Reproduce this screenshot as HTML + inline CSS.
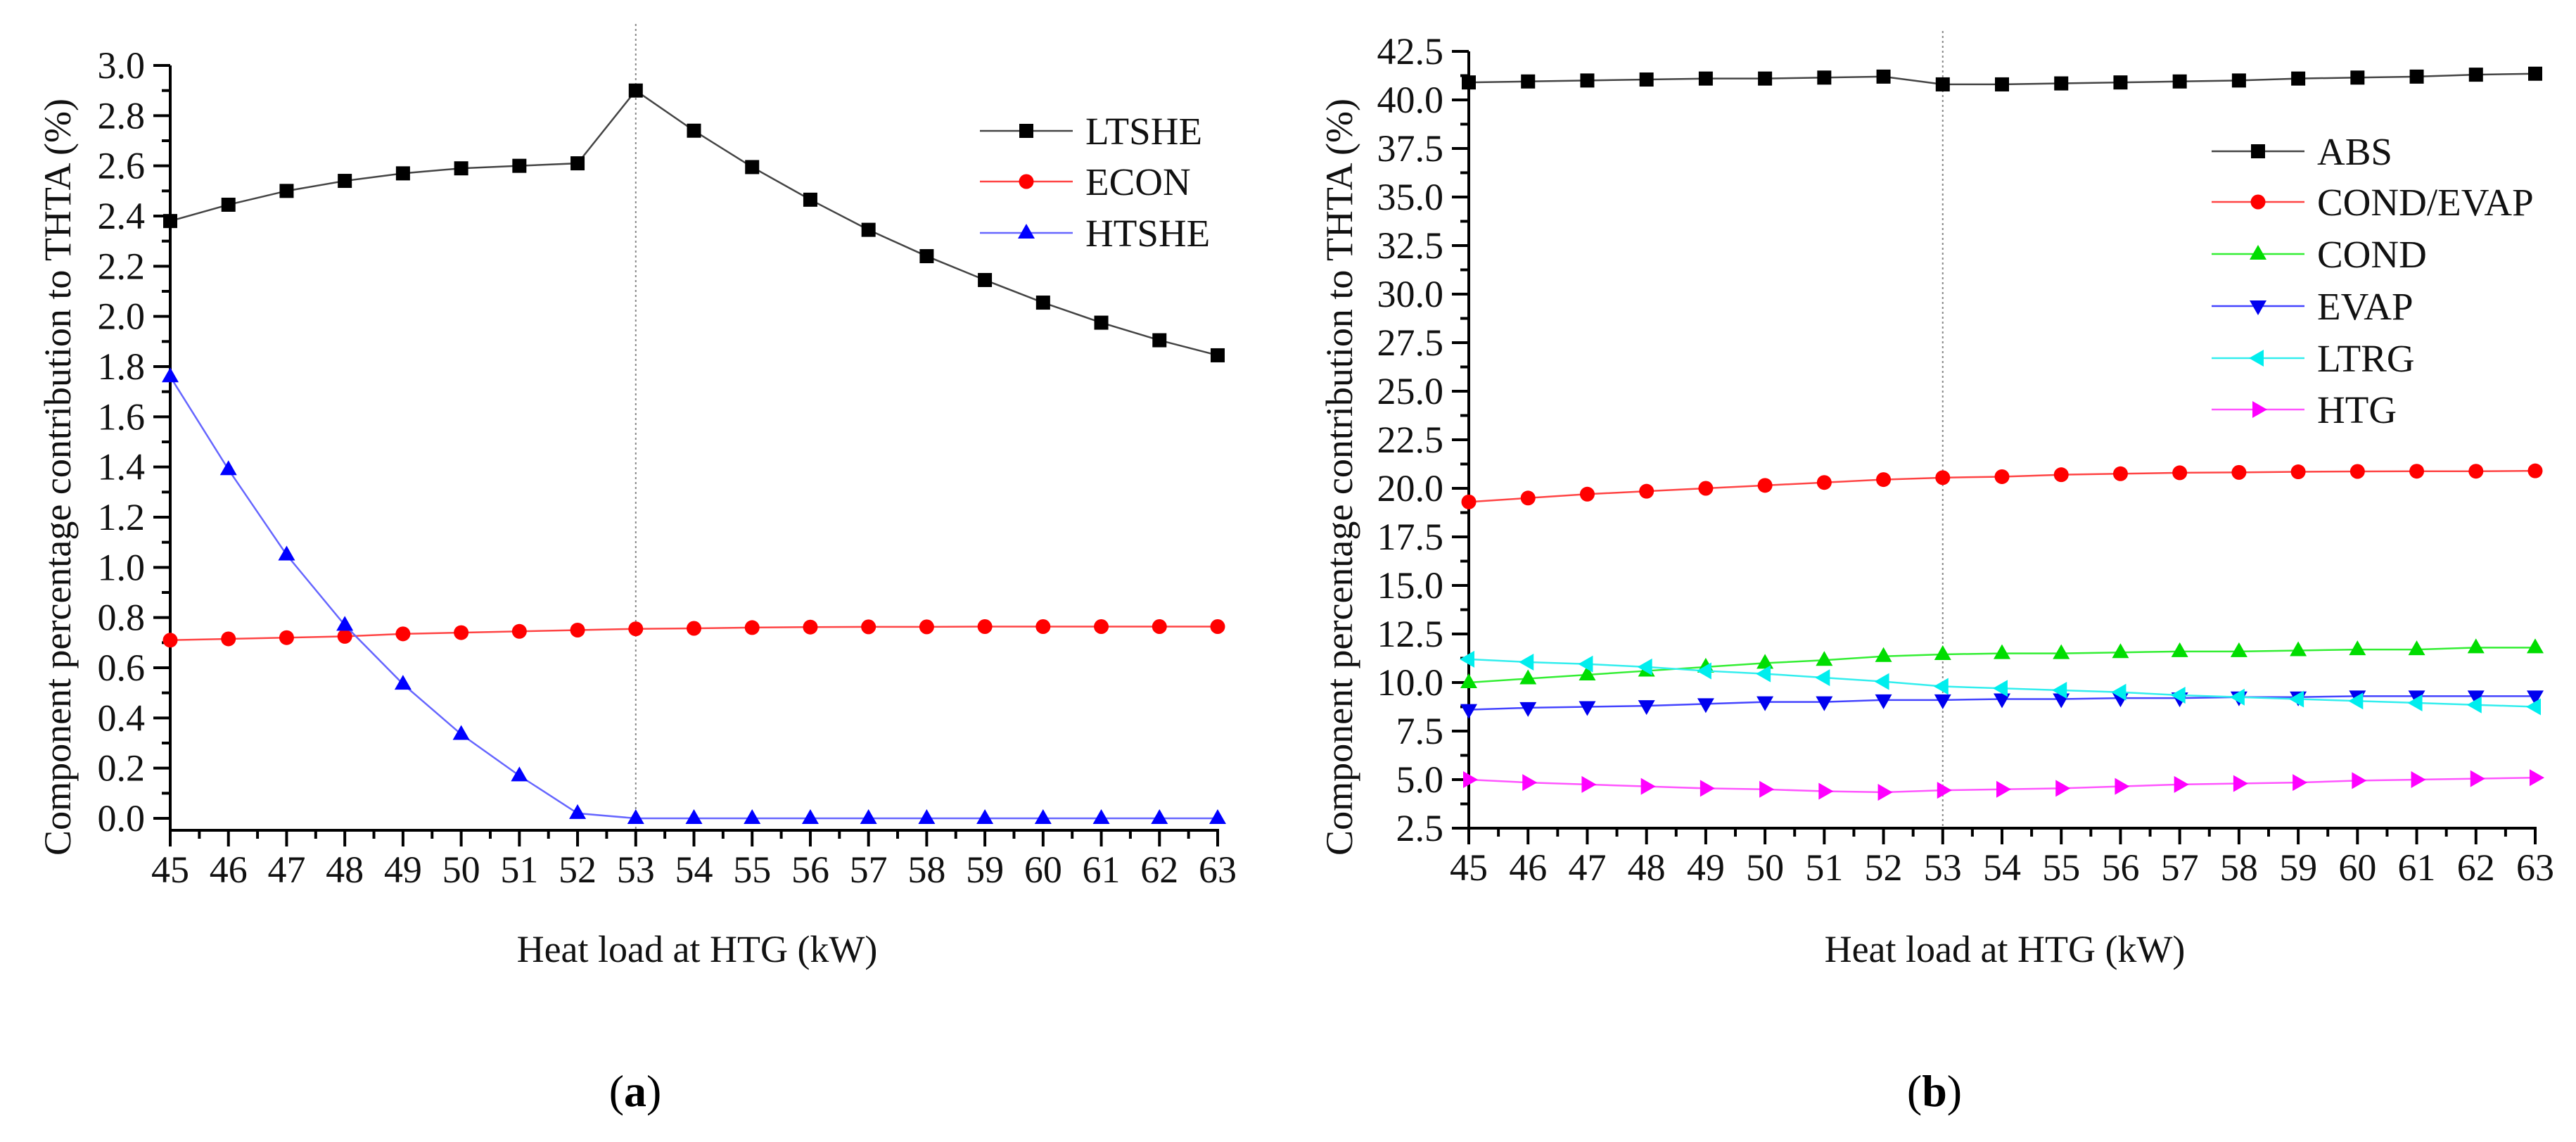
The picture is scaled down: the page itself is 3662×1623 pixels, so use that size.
<!DOCTYPE html>
<html><head><meta charset="utf-8"><style>
html,body{margin:0;padding:0;background:#fff;}
svg{display:block;font-family:"Liberation Serif","DejaVu Serif",serif;}
text{font-family:"Liberation Serif","DejaVu Serif",serif;}
</style></head><body>
<svg id="s" width="3662" height="1623" viewBox="0 0 3662 1623"></svg>
<script>
const xCats=[45,46,47,48,49,50,51,52,53,54,55,56,57,58,59,60,61,62,63];
const aTicks=[0.0,0.2,0.4,0.6,0.8,1.0,1.2,1.4,1.6,1.8,2.0,2.2,2.4,2.6,2.8,3.0];
const bTicks=[2.5,5.0,7.5,10.0,12.5,15.0,17.5,20.0,22.5,25.0,27.5,30.0,32.5,35.0,37.5,40.0,42.5];
const ltshe=[2.38,2.445,2.50,2.54,2.57,2.59,2.60,2.61,2.90,2.74,2.595,2.465,2.345,2.24,2.145,2.055,1.975,1.905,1.845];
const econ=[0.71,0.715,0.72,0.725,0.735,0.74,0.745,0.75,0.755,0.757,0.76,0.762,0.763,0.763,0.764,0.764,0.764,0.764,0.764];
const htshe=[1.76,1.39,1.05,0.77,0.535,0.335,0.17,0.02,0,0,0,0,0,0,0,0,0,0,0];
const abs=[40.9,40.95,41.0,41.05,41.1,41.1,41.15,41.2,40.8,40.8,40.85,40.9,40.95,41.0,41.1,41.15,41.2,41.3,41.35];
const condEvap=[19.3,19.5,19.7,19.85,20.0,20.15,20.3,20.45,20.55,20.6,20.7,20.75,20.8,20.82,20.85,20.87,20.88,20.88,20.9];
const cond=[10.0,10.2,10.4,10.6,10.8,11.0,11.15,11.35,11.45,11.5,11.5,11.55,11.6,11.6,11.65,11.7,11.7,11.8,11.8];
const evap=[8.6,8.7,8.75,8.8,8.9,9.0,9.0,9.1,9.1,9.15,9.15,9.2,9.2,9.25,9.25,9.3,9.3,9.3,9.3];
const ltrg=[11.2,11.05,10.95,10.8,10.6,10.45,10.25,10.05,9.8,9.7,9.6,9.5,9.35,9.25,9.15,9.05,8.95,8.85,8.75];
const htg=[5.0,4.85,4.75,4.65,4.55,4.5,4.4,4.35,4.45,4.5,4.55,4.65,4.75,4.8,4.85,4.95,5.0,5.05,5.1];

const NS="http://www.w3.org/2000/svg";
const FONT='"Liberation Serif","DejaVu Serif",serif';
const svg=document.getElementById('s');
function mk(tag,attrs,parent){const e=document.createElementNS(NS,tag);for(const k in attrs)e.setAttribute(k,attrs[k]);if(tag==='text')e.setAttribute('font-family',FONT);(parent||svg).appendChild(e);return e;}

function marker(g,shape,cx,cy,color){
  let e;
  if(shape==='sq') e=mk('rect',{x:cx-10,y:cy-10,width:20,height:20,fill:color},g);
  else if(shape==='ci') e=mk('circle',{cx:cx,cy:cy,r:10.5,fill:color},g);
  else if(shape==='up') e=mk('polygon',{points:`${cx},${cy-13} ${cx+12},${cy+8} ${cx-12},${cy+8}`,fill:color},g);
  else if(shape==='dn') e=mk('polygon',{points:`${cx},${cy+13} ${cx+12},${cy-8} ${cx-12},${cy-8}`,fill:color},g);
  else if(shape==='lt') e=mk('polygon',{points:`${cx-13},${cy} ${cx+8},${cy-12} ${cx+8},${cy+12}`,fill:color},g);
  else e=mk('polygon',{points:`${cx+13},${cy} ${cx-8},${cy-12} ${cx-8},${cy+12}`,fill:color},g);
  return e;
}

function chart(cfg){
  const g=mk('g',{});
  
  
  const X=v=>cfg.x0+(v-xCats[0])*(cfg.x1-cfg.x0)/(xCats[xCats.length-1]-xCats[0]);
  const Y=v=>cfg.y0+(v-cfg.ymin)*(cfg.y1-cfg.y0)/(cfg.ymax-cfg.ymin);
  const axisB=cfg.axisB;
  const dl=mk('line',{x1:X(53),x2:X(53),y1:cfg.dotTop,y2:axisB,stroke:'#888','stroke-width':2,'stroke-dasharray':'3,4'},g);
  
  
  const ya=mk('line',{x1:cfg.x0,x2:cfg.x0,y1:Y(cfg.ymax),y2:axisB+2,stroke:'#000','stroke-width':4},g);
  
  
  const xa=mk('line',{x1:cfg.x0-2,x2:cfg.x1+2,y1:axisB,y2:axisB,stroke:'#000','stroke-width':4},g);
  
  
  const ticks=cfg.ticks;
  ticks.forEach((t,i)=>{
    const y=Y(t);
    mk('line',{x1:cfg.x0-24,x2:cfg.x0,y1:y,y2:y,stroke:'#000','stroke-width':4},g);
    if(i<ticks.length-1){const ym=Y((t+ticks[i+1])/2);mk('line',{x1:cfg.x0-12,x2:cfg.x0,y1:ym,y2:ym,stroke:'#000','stroke-width':4},g);}
    const tx=mk('text',{x:cfg.x0-36,y:y+18,'text-anchor':'end','font-size':54,fill:'#111'},g);
    tx.textContent=t.toFixed(1);
    
    
  });
  xCats.forEach((c,i)=>{
    const x=X(c);
    mk('line',{x1:x,x2:x,y1:axisB,y2:axisB+23,stroke:'#000','stroke-width':4},g);
    if(i<xCats.length-1){const xm=X(c+0.5);mk('line',{x1:xm,x2:xm,y1:axisB,y2:axisB+12,stroke:'#000','stroke-width':4},g);}
    const tx=mk('text',{x:x,y:axisB+74,'text-anchor':'middle','font-size':54,fill:'#111'},g);
    tx.textContent=String(c);
    
    
  });
  cfg.series.forEach((s,si)=>{
    const sg=mk('g',{},g);
    
    
    const pts=s.data.map((v,i)=>X(xCats[i])+','+Y(v)).join(' ');
    mk('polyline',{points:pts,fill:'none',stroke:s.line,'stroke-width':2.5},sg);
    s.data.forEach((v,i)=>{
      const m=marker(sg,s.shape,X(xCats[i]),Y(v),s.color);
      
      
    });
    const ly=cfg.legY[si];
    const lg=mk('g',{},g);
    
    
    mk('line',{x1:cfg.legX,x2:cfg.legX+132,y1:ly,y2:ly,stroke:s.line,'stroke-width':2.5},lg);
    marker(lg,s.shape,cfg.legX+66,ly,s.color);
    const lt=mk('text',{x:cfg.legX+150,y:ly+19,'font-size':55,fill:'#111'},lg);
    lt.textContent=s.label;
  });
  const xt=mk('text',{x:cfg.xtX,y:1367,'text-anchor':'middle','font-size':54,fill:'#111'},g);
  xt.textContent='Heat load at HTG (kW)';
  
  
  const yt=mk('text',{x:0,y:0,'text-anchor':'middle','font-size':54,fill:'#111',transform:`translate(${cfg.ytX+18},678) rotate(-90)`},g);
  yt.textContent='Component percentage contribution to THTA (%)';
  
  
  const cap=mk('text',{x:cfg.capX,y:1572,'text-anchor':'middle','font-size':64,fill:'#000'},g);
  cap.innerHTML='(<tspan font-weight="bold">'+cfg.cap+'</tspan>)';
  
  
}

chart({name:'chart-a',x0:242,x1:1731,y0:1163,y1:93,ymin:0,ymax:3.0,axisB:1180,dotTop:34,ticks:aTicks,
  legX:1393,legY:[186,258,331],xtX:991,ytX:82,capX:903,cap:'a',
  series:[
    {label:'LTSHE',data:ltshe,shape:'sq',color:'#000',line:'#444'},
    {label:'ECON',data:econ,shape:'ci',color:'#f00',line:'#f44'},
    {label:'HTSHE',data:htshe,shape:'up',color:'#00f',line:'#66f'}
  ]});
chart({name:'chart-b',x0:2088,x1:3604,y0:1177,y1:73,ymin:2.5,ymax:42.5,axisB:1177,dotTop:44,ticks:bTicks,
  legX:3144,legY:[215,287,361,435,509,582],xtX:2850,ytX:1904,capX:2750,cap:'b',
  series:[
    {label:'ABS',data:abs,shape:'sq',color:'#000',line:'#444'},
    {label:'COND/EVAP',data:condEvap,shape:'ci',color:'#f00',line:'#f44'},
    {label:'COND',data:cond,shape:'up',color:'#0d0',line:'#3e3'},
    {label:'EVAP',data:evap,shape:'dn',color:'#00e',line:'#44f'},
    {label:'LTRG',data:ltrg,shape:'lt',color:'#0ee',line:'#3ee'},
    {label:'HTG',data:htg,shape:'rt',color:'#f0f',line:'#f5f'}
  ]});
</script>
</body></html>
